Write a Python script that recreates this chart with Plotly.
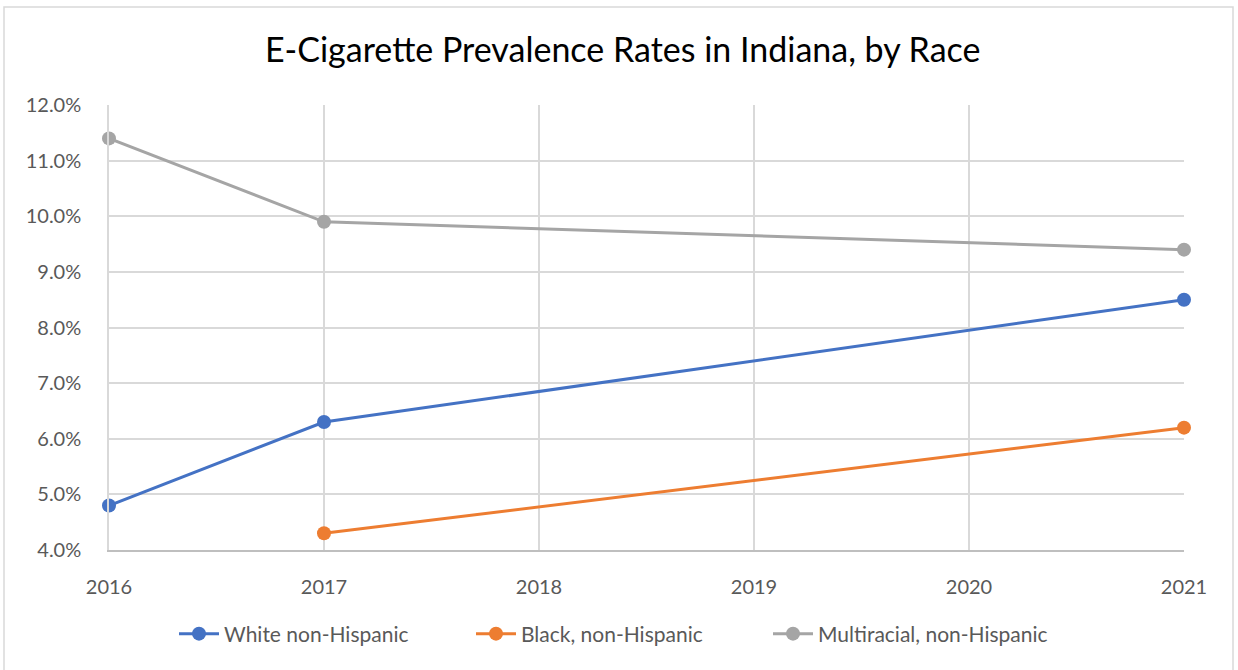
import plotly.graph_objects as go

years_white = [2016, 2017, 2021]
white = [4.8, 6.3, 8.5]
years_black = [2017, 2021]
black = [4.3, 6.2]
years_multi = [2016, 2017, 2021]
multi = [11.4, 9.9, 9.4]

series = [
    ("White non-Hispanic", years_white, white, "#4472C4"),
    ("Black, non-Hispanic", years_black, black, "#ED7D31"),
    ("Multiracial, non-Hispanic", years_multi, multi, "#A5A5A5"),
]

FONT = "Lato, 'Open Sans', sans-serif"
fig = go.Figure()
for name, xs, ys, col in series:
    fig.add_trace(go.Scatter(
        x=xs, y=ys, name=name, mode="lines+markers",
        line=dict(color=col, width=3),
        marker=dict(color=col, size=14),
        cliponaxis=False,
    ))

W, H = 1238, 670
L, R, T, B = 109, 54, 105, 120
pw, ph = W - L - R, H - T - B

def px2x(px):
    return (px - L) / pw

def py2y(py):
    return (H - B - py) / ph

fig.update_layout(
    width=W, height=H,
    margin=dict(l=L, r=R, t=T, b=B),
    paper_bgcolor="white", plot_bgcolor="white",
    font=dict(family=FONT, color="#595959", size=20),
    title=dict(text="E-Cigarette Prevalence Rates in Indiana, by Race",
               x=0.503, xanchor="center", y=1 - 50 / H, yanchor="middle",
               font=dict(family=FONT, size=34, color="#000000")),
    xaxis=dict(range=[2016, 2021], tickmode="array",
               tickvals=[2016, 2017, 2018, 2019, 2020, 2021],
               ticktext=["2016", "2017", "2018", "2019", "2020", "2021"],
               showgrid=True, gridcolor="#D9D9D9", gridwidth=1.5,
               zeroline=False, showline=True, linecolor="#BFBFBF", linewidth=1.5,
               ticks="", ticklabelstandoff=18,
               tickfont=dict(size=20, color="#595959")),
    yaxis=dict(range=[4, 12], dtick=1, tick0=4, tickformat=".1f", ticksuffix="%",
               showgrid=True, gridcolor="#D9D9D9", gridwidth=1.5,
               zeroline=False, showline=True, linecolor="#D9D9D9", linewidth=1.5,
               ticks="", ticklabelstandoff=22,
               tickfont=dict(size=20, color="#595959")),
    legend=dict(orientation="h", x=px2x(174), xanchor="left", y=py2y(634), yanchor="middle",
                font=dict(size=21, color="#595959"), itemwidth=40,
                entrywidth=242, entrywidthmode="pixels",
                bgcolor="rgba(0,0,0,0)"),
    showlegend=True,
)

fig.add_shape(type="rect", xref="paper", yref="paper",
              x0=px2x(4), x1=px2x(1233), y0=py2y(672), y1=py2y(7),
              line=dict(color="#D9D9D9", width=1.5), fillcolor="rgba(0,0,0,0)",
              layer="below")

fig.write_html("out.html")
